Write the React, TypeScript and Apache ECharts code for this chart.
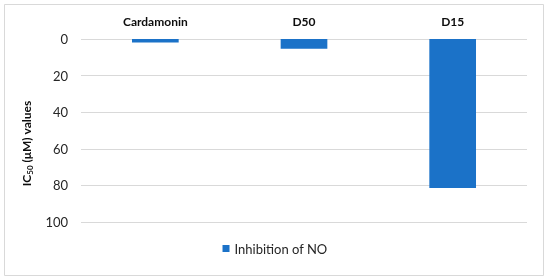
import React, { useEffect, useRef } from "react";
import * as echarts from "echarts";

const categories = ["Cardamonin", "D50", "D15"];
const inhibitionOfNO = [1.9, 5.3, 81.4];
const yTicks = { min: 0, max: 100, interval: 20 };

const FONT = "Lato";

export default function App() {
  const ref = useRef<HTMLDivElement>(null);
  useEffect(() => {
    const chart = echarts.init(ref.current!, null, { renderer: "svg" });
    chart.setOption({
      animation: false,
      textStyle: { fontFamily: FONT },
      graphic: [
        {
          type: "rect",
          shape: { x: 4.5, y: 4.5, width: 539, height: 271 },
          style: { fill: "#fff", stroke: "#d9d9d9", lineWidth: 1 },
          z: -10,
        },
      ],
      grid: { left: 81, right: 23, top: 39, bottom: 58 },
      legend: {
        bottom: 20,
        left: "center",
        itemWidth: 7,
        itemHeight: 7,
        itemGap: 4,
        icon: "rect",
        textStyle: { fontSize: 13, color: "#262626", fontFamily: FONT },
        data: ["Inhibition of NO"],
      },
      xAxis: {
        type: "category",
        data: categories,
        position: "top",
        axisLine: { show: false },
        axisTick: { show: false },
        axisLabel: {
          fontSize: 12,
          fontWeight: "bold",
          color: "#0d0d0d",
          margin: 12,
          fontFamily: FONT,
        },
      },
      yAxis: {
        type: "value",
        inverse: true,
        min: yTicks.min,
        max: yTicks.max,
        interval: yTicks.interval,
        axisLine: { show: false },
        axisTick: { show: false },
        axisLabel: { fontSize: 13, color: "#262626", margin: 13, fontFamily: FONT },
        splitLine: { lineStyle: { color: "#d9d9d9", width: 1 } },
        name: "{a|IC}{b|50}{a| (μM) values}",
        nameLocation: "middle",
        nameRotate: 90,
        nameGap: 46,
        nameTextStyle: {
          padding: [0, 26, 0, 0],
          rich: {
            a: { fontSize: 12, fontWeight: "bold", color: "#0d0d0d", fontFamily: FONT, lineHeight: 16 },
            b: { fontSize: 8, fontWeight: "bold", color: "#0d0d0d", fontFamily: FONT, lineHeight: 16, verticalAlign: "bottom", padding: [6, 0, 0, 0] },
          },
        },
      },
      series: [
        {
          name: "Inhibition of NO",
          type: "bar",
          data: inhibitionOfNO,
          barWidth: "31.4%",
          itemStyle: { color: "#1b72c8" },
        },
      ],
    });
    return () => chart.dispose();
  }, []);
  return (
    <div
      ref={ref}
      style={{ position: "fixed", left: 0, top: 0, width: 550, height: 280 }}
    />
  );
}
